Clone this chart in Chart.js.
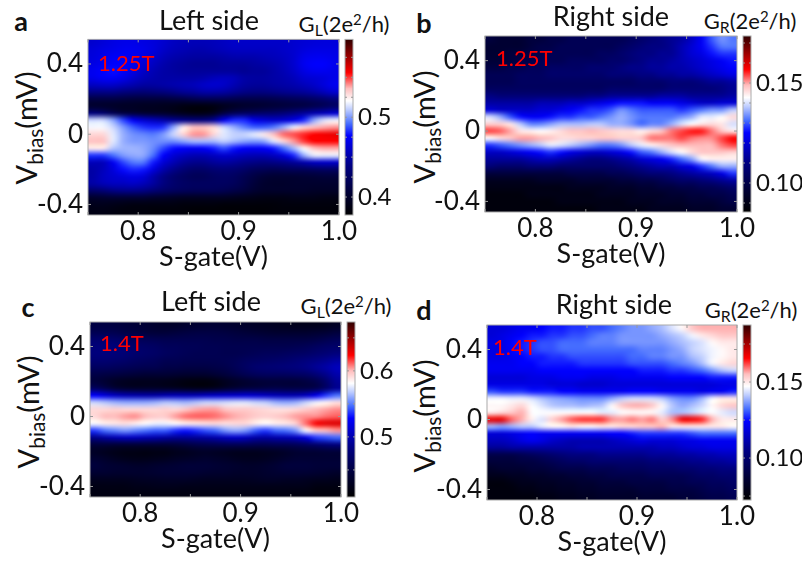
<!DOCTYPE html>
<html>
<head>
<meta charset="utf-8">
<script src="https://cdn.jsdelivr.net/npm/chart.js@4"></script>
<style>
html, body { margin: 0; padding: 0; background: #fff; }
#page { position: relative; width: 802px; height: 563px; overflow: hidden; font-family: Lato, sans-serif; color: #111; }
#page canvas { position: absolute; }
.lbl { position: absolute; white-space: nowrap; transform: translate(-50%, -50%); }
.letter { font-size: 27px; font-weight: bold; }
.ylab { font-size: 29px; transform: translate(-50%, -50%) rotate(-90deg); }
.cbt { font-size: 22px; }
.field { font-size: 22px; color: #f00; transform: translate(0, -50%); }
sub { font-size: 0.72em; vertical-align: -0.3em; line-height: 0; }
sup { font-size: 0.68em; vertical-align: 0.45em; line-height: 0; }
</style>
</head>
<body>
<div id="page">
<div class="lbl letter" style="left:21px;top:20px">a</div>
<div class="lbl letter" style="left:424px;top:22px">b</div>
<div class="lbl letter" style="left:28px;top:306px">c</div>
<div class="lbl letter" style="left:424px;top:309px">d</div>
<div class="lbl ylab" style="left:25px;top:128px">V<sub>bias</sub>(mV)</div>
<div class="lbl ylab" style="left:423px;top:127px">V<sub>bias</sub>(mV)</div>
<div class="lbl ylab" style="left:27px;top:412px">V<sub>bias</sub>(mV)</div>
<div class="lbl ylab" style="left:423px;top:416px">V<sub>bias</sub>(mV)</div>
<div class="lbl cbt" style="left:344px;top:23px">G<sub>L</sub>(2e<sup>2</sup>/h)</div>
<div class="lbl cbt" style="left:750px;top:20px">G<sub>R</sub>(2e<sup>2</sup>/h)</div>
<div class="lbl cbt" style="left:346px;top:305px">G<sub>L</sub>(2e<sup>2</sup>/h)</div>
<div class="lbl cbt" style="left:751px;top:309px">G<sub>R</sub>(2e<sup>2</sup>/h)</div>
<canvas id="chartA"></canvas>
<canvas id="chartB"></canvas>
<canvas id="chartC"></canvas>
<canvas id="chartD"></canvas>
<div class="lbl field" style="left:98px;top:62px">1.25T</div>
<div class="lbl field" style="left:496px;top:57px">1.25T</div>
<div class="lbl field" style="left:100px;top:342px">1.4T</div>
<div class="lbl field" style="left:493px;top:346px">1.4T</div>
</div>
<script>
// S-gate (V) at the middle of each column
var sGate = [0.755,0.765,0.775,0.785,0.795,0.805,0.815,0.825,0.835,0.845,0.855,0.865,0.875,0.885,0.895,0.905,0.915,0.925,0.935,0.945,0.955,0.965,0.975,0.985,0.995];
// Vbias (mV) at the middle of each row, top row first
var vBias = [0.52,0.48,0.44,0.40,0.36,0.32,0.28,0.24,0.20,0.16,0.12,0.08,0.04,0,-0.04,-0.08,-0.12,-0.16,-0.20,-0.24,-0.28,-0.32,-0.36,-0.40,-0.44];

var xTickLabels = [0.8, 0.9, 1.0];
var yTickLabels = [-0.4, 0, 0.4];
var xMarks = [0.75, 0.8, 0.85, 0.9, 0.95, 1.0];

// conductance in units of 0.001 x 2e2/h, rows follow vBias, columns follow sGate
var gLeft125 = [
[462,465,468,470,470,468,466,462,458,456,455,455,456,458,460,460,460,460,460,460,462,464,465,466,466],
[465,468,470,472,472,470,466,460,456,454,452,452,454,456,458,458,458,458,458,460,462,466,468,468,468],
[466,470,474,474,472,468,462,456,452,450,448,448,448,450,452,452,452,454,456,458,462,470,472,472,470],
[468,472,476,476,470,464,458,452,448,446,444,444,444,446,446,446,448,450,452,456,462,472,476,476,472],
[472,476,478,474,468,460,454,450,448,446,446,446,446,446,446,444,446,446,450,454,460,468,472,472,470],
[470,474,474,470,462,456,452,450,450,450,450,452,456,458,456,450,448,448,450,452,456,462,464,466,470],
[458,460,460,456,452,448,448,450,452,454,456,460,462,460,454,448,446,446,448,450,452,456,460,466,472],
[440,440,440,436,434,432,434,436,440,444,446,450,450,448,444,440,438,438,440,442,444,446,450,456,462],
[412,412,412,410,408,408,408,408,410,412,416,418,418,418,416,414,414,414,416,418,420,422,426,430,436],
[402,400,398,396,396,394,394,392,390,386,384,384,386,392,396,400,402,404,406,408,410,412,416,420,426],
[436,430,418,410,408,404,402,400,396,392,388,388,394,410,420,424,426,428,430,434,440,446,452,456,462],
[512,512,502,486,472,462,456,450,444,440,436,436,444,468,482,482,470,464,460,462,468,482,502,514,518],
[519,519,512,500,490,484,482,484,502,525,535,535,530,512,504,496,490,490,494,504,517,530,535,538,540],
[530,530,516,504,498,496,494,500,512,530,540,540,530,516,511,511,516,525,535,545,548,552,556,558,560],
[535,535,516,504,500,500,498,498,498,502,506,506,506,510,506,502,500,502,515,530,540,550,556,556,556],
[525,525,508,505,505,503,497,486,478,474,472,474,480,487,480,474,472,474,480,492,506,522,535,538,538],
[484,484,492,500,503,503,492,476,464,458,454,454,458,462,460,456,454,454,458,466,482,504,517,517,517],
[456,456,472,486,494,494,480,464,454,446,442,442,446,448,446,442,440,438,440,442,446,452,458,460,460],
[450,456,466,478,482,480,467,452,442,434,428,428,432,434,432,428,422,420,418,420,422,422,424,426,426],
[450,458,462,465,468,465,452,440,430,424,420,420,424,426,424,418,412,406,404,404,404,405,406,408,408],
[450,455,458,458,460,456,448,438,430,426,424,424,424,424,422,416,408,402,400,400,402,402,402,402,402],
[430,434,440,442,442,440,434,428,424,422,420,420,420,418,414,410,404,400,400,400,400,400,398,398,398],
[402,404,405,405,405,405,402,400,398,396,396,396,396,396,394,392,390,388,388,388,390,390,390,388,388],
[392,392,390,388,386,386,386,386,386,384,384,384,384,382,382,382,382,382,382,384,384,384,384,384,384],
[388,388,386,384,384,384,382,382,382,382,380,380,380,380,380,380,380,380,382,382,382,382,382,382,382]
];
var gRight125 = [
[98,96,96,96,98,98,100,100,102,102,102,102,102,102,104,106,108,110,112,114,118,124,130,134,132],
[96,96,96,96,98,100,100,102,102,102,102,102,102,104,106,108,110,110,112,116,120,124,128,132,132],
[96,96,98,98,100,100,102,102,102,102,102,104,104,106,108,110,110,112,112,116,120,122,126,128,128],
[97,97,98,100,100,102,102,102,104,104,104,104,106,106,108,110,112,112,114,116,118,120,122,124,126],
[99,99,101,101,103,103,105,105,105,105,107,107,107,109,111,111,113,113,115,115,117,119,121,123,125],
[102,102,102,104,104,104,106,106,106,106,106,106,108,108,108,110,110,112,112,114,114,116,118,120,122],
[102,102,102,104,104,104,104,104,104,104,104,104,104,104,104,106,106,106,108,108,108,110,112,112,114],
[104,104,104,104,104,104,104,104,104,104,104,104,106,106,106,106,106,106,108,108,108,108,108,110,112],
[110,108,108,108,108,108,108,108,108,108,110,110,112,112,112,112,112,114,114,114,112,112,112,112,114],
[114,114,114,114,114,116,116,116,118,118,120,122,124,126,126,126,124,124,124,122,120,118,118,120,120],
[120,118,118,118,118,120,120,122,124,126,128,128,130,134,132,130,130,130,130,128,130,132,134,134,138],
[140,136,130,126,124,124,126,128,128,130,130,132,134,136,134,132,132,132,132,134,136,141,141,143,146],
[147,147,145,138,133,133,135,137,137,137,138,138,136,136,134,131,133,133,136,140,143,145,146,145,140],
[154,153,150,145,144,143,144,146,148,148,149,148,147,146,146,144,146,148,152,154,156,156,152,148,145],
[143,146,148,150,150,149,148,146,146,147,147,148,148,147,147,148,152,152,152,154,152,151,151,154,157],
[128,130,132,134,136,138,141,140,138,136,134,132,132,134,138,141,144,146,148,149,149,149,149,152,154],
[118,118,120,122,124,126,128,126,122,120,118,118,120,122,126,130,132,136,140,143,146,148,148,148,147],
[113,113,113,113,115,117,117,115,113,111,109,109,111,113,115,119,121,123,127,131,135,142,144,144,144],
[108,106,106,106,108,108,108,106,106,106,106,106,106,108,110,112,114,116,116,120,122,128,132,136,136],
[98,98,98,98,98,98,98,98,100,100,100,100,102,102,104,106,108,108,110,112,114,116,118,122,128],
[92,92,92,92,92,94,94,94,94,96,96,96,96,98,98,100,100,102,104,106,106,108,110,112,114],
[90,90,90,90,90,90,90,90,92,92,92,92,94,94,94,96,96,98,98,100,100,102,102,104,106],
[88,88,88,88,90,90,90,90,90,90,90,92,92,92,92,94,94,94,96,96,98,98,100,100,102],
[88,88,88,88,88,88,88,90,90,90,90,90,90,90,92,92,92,94,94,94,96,96,96,98,100],
[88,88,88,88,88,88,88,88,88,88,88,90,90,90,90,90,92,92,92,92,94,94,94,96,96]
];
var gLeft14 = [
[450,450,448,446,444,442,438,436,436,438,440,442,442,440,438,436,434,432,430,428,426,426,426,428,432],
[458,458,456,452,450,446,444,444,446,448,450,450,450,448,446,444,442,440,438,438,438,438,440,442,446],
[472,472,470,466,462,460,458,456,456,456,456,456,454,454,452,452,452,450,450,450,450,450,452,456,460],
[478,480,478,474,470,468,466,462,462,460,460,458,458,456,456,456,456,456,456,456,458,460,464,468,470],
[480,480,478,476,472,470,468,464,462,460,458,458,458,456,456,458,460,462,462,464,466,468,472,476,480],
[474,474,472,470,466,464,462,458,458,456,456,456,456,458,460,464,466,468,470,472,476,480,484,488,494],
[464,464,462,460,458,456,456,452,452,450,450,450,452,454,460,466,472,474,476,478,480,484,490,496,504],
[452,450,448,446,444,442,442,442,440,438,438,438,442,446,452,458,462,464,464,464,466,468,476,486,498],
[446,440,432,428,426,426,426,424,422,418,416,416,420,428,434,438,442,444,444,444,444,448,454,470,490],
[466,456,444,438,436,436,436,434,432,428,426,426,430,438,444,448,450,452,454,452,452,452,456,472,490],
[526,516,506,500,498,496,496,500,502,502,502,506,508,510,510,512,510,506,502,500,500,506,520,538,548],
[570,566,562,560,560,560,562,566,565,563,566,570,570,572,574,574,570,568,562,560,562,570,578,584,590],
[592,592,594,592,592,592,592,594,592,597,602,604,604,598,596,596,594,592,590,590,592,596,600,603,606],
[592,600,600,604,606,600,596,596,604,610,612,612,610,606,602,600,596,594,596,600,604,606,606,610,612],
[580,586,588,590,586,582,578,578,582,586,588,590,592,590,592,592,586,582,586,588,594,610,625,630,632],
[538,548,552,556,552,548,544,544,536,532,536,542,546,556,560,556,544,538,546,548,556,580,596,600,605],
[486,494,500,504,504,500,498,494,490,490,492,494,498,504,508,504,496,494,498,500,504,516,538,542,546],
[446,446,444,444,444,444,444,444,446,450,454,456,458,460,460,460,458,458,460,460,462,466,472,478,482],
[432,428,424,422,422,420,422,422,426,428,432,434,432,430,428,428,428,430,432,436,440,442,442,444,444],
[440,436,430,426,424,424,426,428,432,434,436,438,436,434,430,428,428,430,434,438,442,442,442,442,442],
[446,442,440,438,436,436,438,440,442,444,444,444,442,440,438,436,436,438,442,446,446,446,444,444,444],
[440,440,438,438,438,438,440,442,442,442,442,440,438,438,436,436,436,438,440,442,442,442,440,438,436],
[428,428,428,428,430,432,432,434,434,434,432,430,430,430,430,430,432,434,434,432,432,430,428,428,426],
[422,422,422,422,424,424,426,426,426,424,424,424,424,424,424,424,424,424,424,424,424,424,420,420,420],
[420,420,420,420,420,420,420,420,420,420,420,420,420,420,420,420,420,420,420,420,418,418,416,416,416]
];
var gRight14 = [
[118,118,120,122,122,124,126,126,128,128,130,130,132,134,136,136,138,140,144,148,154,156,156,156,156],
[118,120,122,124,126,126,128,128,130,130,132,134,134,136,136,136,136,138,140,142,146,150,152,154,154],
[120,120,124,126,128,130,130,132,132,132,134,134,134,136,136,136,136,136,138,140,142,144,148,150,150],
[120,120,124,126,128,130,130,132,132,132,132,132,132,132,132,134,134,134,136,138,142,144,146,148,150],
[120,120,122,124,126,126,128,128,130,130,130,130,130,130,132,132,134,134,136,136,140,142,146,148,150],
[122,122,122,124,124,126,126,126,126,128,128,128,128,128,130,130,130,130,132,134,136,140,146,150,152],
[122,122,122,122,122,124,124,124,124,124,124,124,124,124,124,126,126,126,128,128,130,132,136,140,142],
[118,118,118,118,120,120,120,122,122,122,120,120,120,122,122,122,122,122,124,124,124,124,126,126,126],
[120,120,120,120,120,120,118,118,118,116,116,116,118,118,118,118,118,118,118,118,118,118,118,120,120],
[130,128,128,128,126,126,126,124,124,122,122,122,122,122,124,124,124,122,122,122,122,120,122,122,126],
[146,146,145,145,143,140,138,137,136,135,135,135,138,141,143,143,143,141,137,135,135,139,146,150,150],
[148,148,150,152,147,144,141,140,140,139,140,141,148,154,156,156,154,148,141,138,140,143,148,152,154],
[150,152,154,156,147,147,147,147,147,147,147,145,145,147,148,148,148,145,140,140,142,145,147,145,143],
[168,168,160,156,149,144,153,157,161,163,163,163,158,157,159,157,159,153,158,167,167,164,156,150,150],
[139,137,139,141,141,145,148,148,150,148,148,150,150,152,152,154,154,156,150,150,150,150,150,150,148],
[118,118,120,122,124,122,122,122,122,122,122,122,124,124,126,128,128,128,128,128,130,132,132,132,132],
[114,114,116,120,122,120,116,114,112,112,112,112,114,116,118,120,118,118,118,120,120,122,122,122,122],
[108,108,110,110,110,110,110,110,110,112,112,112,112,112,112,112,112,114,114,116,118,118,120,120,120],
[92,92,92,94,96,98,100,102,104,104,104,106,106,106,106,106,108,108,108,110,110,112,112,114,114],
[88,88,88,90,90,92,94,96,98,98,100,100,100,100,100,100,102,102,104,104,106,106,108,108,110],
[84,86,86,86,88,88,90,92,92,92,94,94,94,96,96,96,98,98,98,100,100,102,102,104,104],
[80,80,82,82,84,84,86,86,88,88,90,90,92,92,92,92,94,94,94,94,96,98,98,100,100],
[76,76,78,80,80,82,82,84,84,86,86,88,88,88,90,90,90,90,92,92,94,94,96,96,98],
[76,76,76,78,78,80,80,82,82,84,84,86,86,86,86,88,88,88,90,90,90,92,94,94,96],
[76,76,76,76,76,78,78,80,80,82,82,84,84,84,84,86,86,86,86,88,88,90,92,92,94]
];

var cbLabelsA = [0.4, 0.5];
var cbLabelsB = [0.10, 0.15];
var cbLabelsC = [0.5, 0.6];
var cbLabelsD = [0.10, 0.15];
var cbMarksA = [0.4, 0.425, 0.45, 0.475, 0.5, 0.525, 0.55, 0.575];
var cbMarksB = [0.09, 0.10, 0.11, 0.12, 0.13, 0.14, 0.15, 0.16, 0.17];
var cbMarksC = [0.45, 0.5, 0.55, 0.6, 0.65];
var cbMarksD = [0.075, 0.1, 0.125, 0.15, 0.175];

// colour map: position in the range, then r, g, b
var cmap = [
    [0, 0, 0, 0],
    [0.12, 0, 0, 50],
    [0.28, 0, 0, 130],
    [0.45, 0, 0, 255],
    [0.52, 70, 110, 255],
    [0.60, 190, 205, 255],
    [0.65, 255, 255, 255],
    [0.72, 255, 190, 190],
    [0.81, 255, 0, 0],
    [1, 48, 0, 0]
];

function colourAt(t) {
    t = Math.max(0, Math.min(1, t));
    for (var i = 1; i < cmap.length; i++) {
        if (t <= cmap[i][0]) {
            var a = cmap[i - 1], b = cmap[i];
            var f = (t - a[0]) / (b[0] - a[0]);
            return [a[1] + f * (b[1] - a[1]), a[2] + f * (b[2] - a[2]), a[3] + f * (b[3] - a[3])];
        }
    }
    return cmap[cmap.length - 1].slice(1);
}

var heatmap = {
    id: 'heatmap',
    beforeDatasetsDraw: function (chart) {
        var ctx = chart.ctx, x = chart.scales.x, y = chart.scales.y, cb = chart.scales.cb;
        var points = chart.data.datasets[0].data;
        var off = document.createElement('canvas');
        off.width = sGate.length;
        off.height = vBias.length;
        var octx = off.getContext('2d');
        var img = octx.createImageData(off.width, off.height);
        points.forEach(function (p) {
            var c = colourAt((p.v - cb.min) / (cb.max - cb.min));
            var o = (sGate.indexOf(p.x) + vBias.indexOf(p.y) * off.width) * 4;
            img.data[o] = c[0];
            img.data[o + 1] = c[1];
            img.data[o + 2] = c[2];
            img.data[o + 3] = 255;
        });
        octx.putImageData(img, 0, 0);
        var left = x.getPixelForValue(x.min), right = x.getPixelForValue(x.max);
        var top = y.getPixelForValue(y.max), bottom = y.getPixelForValue(y.min);
        ctx.save();
        ctx.imageSmoothingEnabled = true;
        ctx.imageSmoothingQuality = 'high';
        ctx.drawImage(off, left, top, right - left, bottom - top);
        ctx.restore();
    },
    afterDatasetsDraw: function (chart) {
        var ctx = chart.ctx, x = chart.scales.x, y = chart.scales.y, cb = chart.scales.cb;
        var area = chart.chartArea;
        ctx.save();
        ctx.strokeStyle = '#aaa';
        ctx.lineWidth = 1;
        ctx.strokeRect(area.left, area.top, area.right - area.left, area.bottom - area.top);
        ctx.strokeStyle = '#999';
        ctx.beginPath();
        xMarks.forEach(function (v) {
            var px = x.getPixelForValue(v);
            ctx.moveTo(px, area.top); ctx.lineTo(px, area.top + 3);
            ctx.moveTo(px, area.bottom); ctx.lineTo(px, area.bottom - 3);
        });
        yTickLabels.forEach(function (v) {
            var py = y.getPixelForValue(v);
            ctx.moveTo(area.left, py); ctx.lineTo(area.left + 3, py);
            ctx.moveTo(area.right, py); ctx.lineTo(area.right - 3, py);
        });
        ctx.stroke();

        // colour bar
        var barLeft = cb.left + 6, barWidth = 8;
        var barTop = cb.getPixelForValue(cb.max), barBottom = cb.getPixelForValue(cb.min);
        var grad = ctx.createLinearGradient(0, barBottom, 0, barTop);
        cmap.forEach(function (s) {
            grad.addColorStop(s[0], 'rgb(' + s[1] + ',' + s[2] + ',' + s[3] + ')');
        });
        ctx.fillStyle = grad;
        ctx.fillRect(barLeft, barTop, barWidth, barBottom - barTop);
        ctx.strokeStyle = '#aaa';
        ctx.strokeRect(barLeft, barTop, barWidth, barBottom - barTop);
        ctx.strokeStyle = '#999';
        ctx.beginPath();
        chart.options.plugins.heatmap.marks.forEach(function (v) {
            var py = cb.getPixelForValue(v);
            ctx.moveTo(barLeft, py); ctx.lineTo(barLeft + 2, py);
            ctx.moveTo(barLeft + barWidth, py); ctx.lineTo(barLeft + barWidth - 2, py);
        });
        ctx.stroke();
        ctx.restore();
    }
};

function pointsFrom(matrix) {
    var points = [];
    vBias.forEach(function (v, row) {
        sGate.forEach(function (s, col) {
            points.push({ x: s, y: v, v: matrix[row][col] / 1000 });
        });
    });
    return points;
}

function makePanel(id, title, matrix, zmin, zmax, cbLabels, cbMarks, digits, box) {
    var canvas = document.getElementById(id);
    canvas.style.left = box.left + 'px';
    canvas.style.top = box.top + 'px';
    canvas.style.width = box.width + 'px';
    canvas.style.height = box.height + 'px';
    canvas.width = box.width;
    canvas.height = box.height;
    return new Chart(canvas.getContext('2d'), {
        type: 'scatter',
        data: {
            datasets: [{ label: title, data: pointsFrom(matrix), pointRadius: 0 }]
        },
        plugins: [heatmap],
        options: {
            responsive: false,
            animation: false,
            devicePixelRatio: 1,
            plugins: {
                legend: { display: false },
                tooltip: { enabled: false },
                title: {
                    display: true,
                    text: title,
                    color: '#111',
                    font: { family: 'Lato', size: 27, weight: 'normal', lineHeight: 1.1 },
                    padding: { top: 0, bottom: box.titlePad }
                },
                heatmap: { marks: cbMarks }
            },
            scales: {
                x: {
                    type: 'linear',
                    min: 0.75,
                    max: 1.0,
                    afterFit: function (s) { s.height = box.xHeight; },
                    afterBuildTicks: function (s) {
                        s.ticks = xTickLabels.map(function (v) { return { value: v }; });
                    },
                    grid: { display: false, drawTicks: false },
                    border: { display: false },
                    ticks: {
                        color: '#111',
                        padding: 1,
                        maxRotation: 0,
                        font: { family: 'Lato', size: 26 },
                        callback: function (v) { return v.toFixed(1); }
                    },
                    title: {
                        display: true,
                        text: 'S-gate(V)',
                        color: '#111',
                        padding: { top: 0, bottom: 0 },
                        font: { family: 'Lato', size: 27 }
                    }
                },
                y: {
                    type: 'linear',
                    position: 'left',
                    min: -0.46,
                    max: 0.54,
                    afterFit: function (s) { s.width = box.yWidth; },
                    afterBuildTicks: function (s) {
                        s.ticks = yTickLabels.map(function (v) { return { value: v }; });
                    },
                    grid: { display: false, drawTicks: false },
                    border: { display: false },
                    ticks: {
                        color: '#111',
                        padding: 5,
                        font: { family: 'Lato', size: 26 },
                        callback: function (v) { return v === 0 ? '0' : v.toFixed(1); }
                    }
                },
                cb: {
                    type: 'linear',
                    position: 'right',
                    min: zmin,
                    max: zmax,
                    afterFit: function (s) { s.width = box.cbWidth; },
                    afterBuildTicks: function (s) {
                        s.ticks = cbLabels.map(function (v) { return { value: v }; });
                    },
                    grid: { display: false, drawTicks: false },
                    border: { display: false },
                    ticks: {
                        color: '#111',
                        padding: 19,
                        font: { family: 'Lato', size: 24 },
                        callback: function (v) { return v.toFixed(digits); }
                    }
                }
            }
        }
    });
}

makePanel('chartA', 'Left side', gLeft125, 0.3775, 0.5975, cbLabelsA, cbMarksA, 1,
    { left: 0, top: 6, width: 418, height: 267, titlePad: 3.3, xHeight: 58, yWidth: 88, cbWidth: 79 });
makePanel('chartB', 'Right side', gRight125, 0.0855, 0.1735, cbLabelsB, cbMarksB, 2,
    { left: 420, top: 2, width: 382, height: 268, titlePad: 4.3, xHeight: 58, yWidth: 65, cbWidth: 65 });
makePanel('chartC', 'Left side', gLeft14, 0.409, 0.674, cbLabelsC, cbMarksC, 1,
    { left: 0, top: 287, width: 422, height: 268, titlePad: 5.3, xHeight: 58, yWidth: 90, cbWidth: 81 });
makePanel('chartD', 'Right side', gRight14, 0.0724, 0.1875, cbLabelsD, cbMarksD, 2,
    { left: 426, top: 290, width: 376, height: 268, titlePad: 5.3, xHeight: 58, yWidth: 61, cbWidth: 65 });
</script>
</body>
</html>
